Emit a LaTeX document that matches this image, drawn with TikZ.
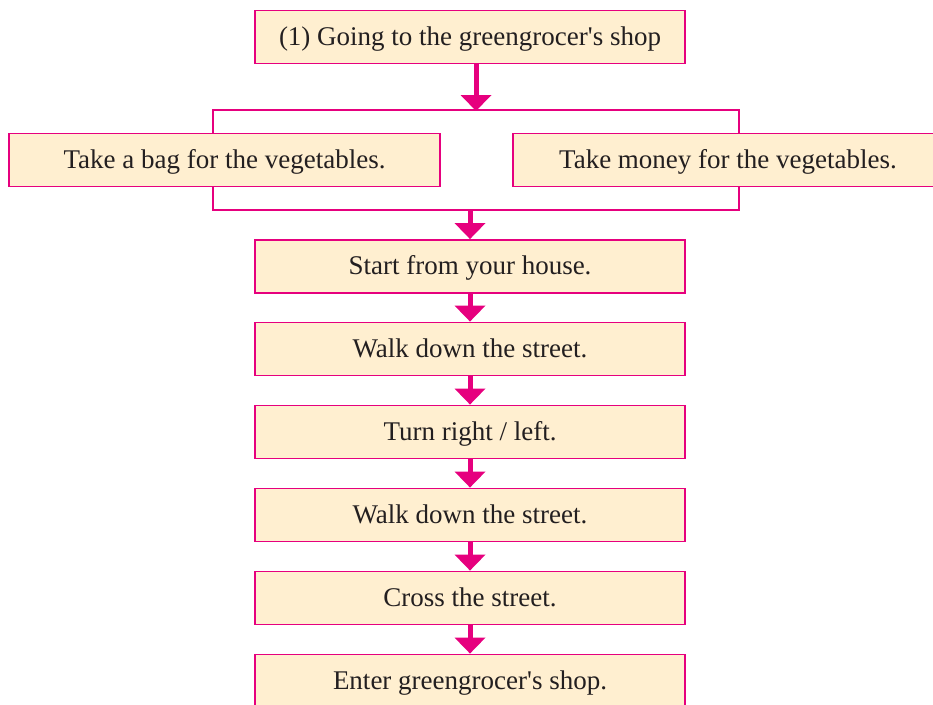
\documentclass[tikz,border=0pt]{standalone}
\usepackage{fontspec}
\setmainfont{Liberation Serif}
\usetikzlibrary{arrows.meta}
\definecolor{mag}{HTML}{E6007E}
\definecolor{cream}{HTML}{FFEFD0}
\definecolor{ink}{HTML}{231F20}
\tikzset{
  box/.style={draw=mag, fill=cream, line width=1.8pt, minimum height=53pt, inner sep=0pt, text height=19pt, text depth=3pt, text=ink, font=\fontsize{27}{32}\selectfont},
  bline/.style={draw=mag, line width=1.8pt},
  arr/.style={draw=mag, line width=5pt, -{Triangle[width=30pt,length=16pt]}}
}
\begin{document}
\begin{tikzpicture}[x=1pt,y=-1pt]
\useasboundingbox (0,0) rectangle (933,704);
\begin{scope}
\clip (0,0) rectangle (933,704);
\node[box, minimum width=430pt] (top) at (470,37) {(1) Going to the greengrocer{\textquotesingle}s shop};
\node[box, minimum width=431pt] (lb) at (224.5,160) {Take a bag for the vegetables.};
\node[box, minimum width=430pt] (rb) at (728,160) {Take money for the vegetables.};
\node[box, minimum width=430pt] (b3) at (470,266.5) {Start from your house.};
\node[box, minimum width=430pt] (b4) at (470,349) {Walk down the street.};
\node[box, minimum width=430pt] (b5) at (470,432) {Turn right / left.};
\node[box, minimum width=430pt] (b6) at (470,515) {Walk down the street.};
\node[box, minimum width=430pt] (b7) at (470,598) {Cross the street.};
\node[box, minimum width=430pt] (b8) at (470,681) {Enter greengrocer{\textquotesingle}s shop.};
\coordinate (t1) at (213,110);
\coordinate (t2) at (739,110);
\coordinate (u1) at (213,210);
\coordinate (u2) at (739,210);
\coordinate (ta) at (476,110);
\coordinate (ua) at (470,210);
\draw[bline] (lb.north -| t1) -- (t1) -- (t2) -- (rb.north -| t2);
\draw[bline] (lb.south -| u1) -- (u1) -- (u2) -- (rb.south -| u2);
\draw[arr] (top.south -| ta) -- ([yshift=-1pt]ta);
\draw[arr] (ua) -- (b3.north);
\draw[arr] (b3.south) -- (b4.north);
\draw[arr] (b4.south) -- (b5.north);
\draw[arr] (b5.south) -- (b6.north);
\draw[arr] (b6.south) -- (b7.north);
\draw[arr] (b7.south) -- (b8.north);
\end{scope}
\end{tikzpicture}
\end{document}
